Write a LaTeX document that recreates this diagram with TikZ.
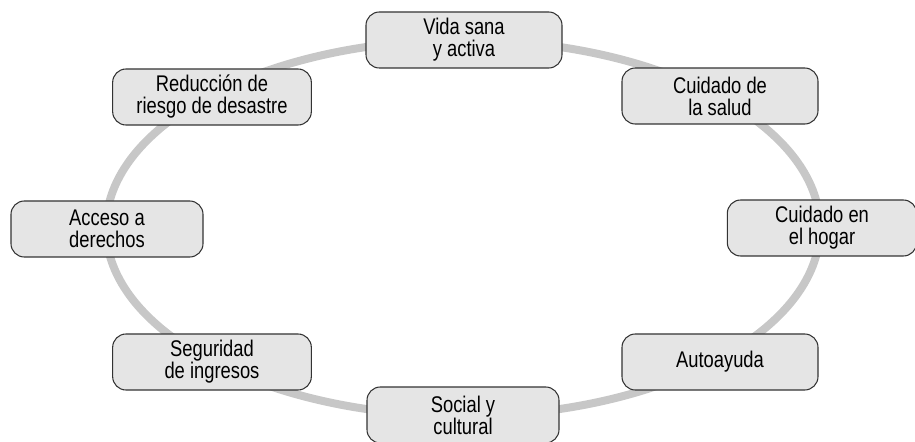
\documentclass[tikz,border=0pt]{standalone}
\usepackage{fontspec}
\setmainfont{Liberation Sans}[FakeStretch=0.81]
\tikzset{
  area/.style={draw=black!80, line width=0.8pt, fill=black!10, rounded corners=10pt,
    minimum width=147pt, minimum height=42pt, align=center, inner sep=2pt,
    font=\fontsize{17pt}{16.5pt}\selectfont},
  ring/.style={draw=black!22, line width=6pt}
}
\begin{document}
\begin{tikzpicture}[x=0.75pt,y=-0.75pt]
\useasboundingbox (0,0) rectangle (915,442);
% anillo
\draw[ring] (463,228) ellipse [x radius=357, y radius=188];
%
\node (vida)      at (464,40)  [area] {Vida sana\\y activa};
\node (salud)     at (720,96)  [area] {Cuidado de\\la salud};
\node (hogar)     at (822,228) [area, minimum width=142pt] {Cuidado en\\el hogar};
\node (autoayuda) at (720,362) [area] {Autoayuda};
%
\node (social)    at (463,415) [area, minimum width=144pt] {Social y\\cultural};
\node (seguridad) at (212,362) [area, minimum width=149pt] {Seguridad\\de ingresos};
\node (acceso)    at (107,229) [area, minimum width=144pt] {Acceso a\\derechos};
\node (reduccion) at (212,97)  [area, minimum width=149pt] {Reducción de\\riesgo de desastre};
\end{tikzpicture}
\end{document}
